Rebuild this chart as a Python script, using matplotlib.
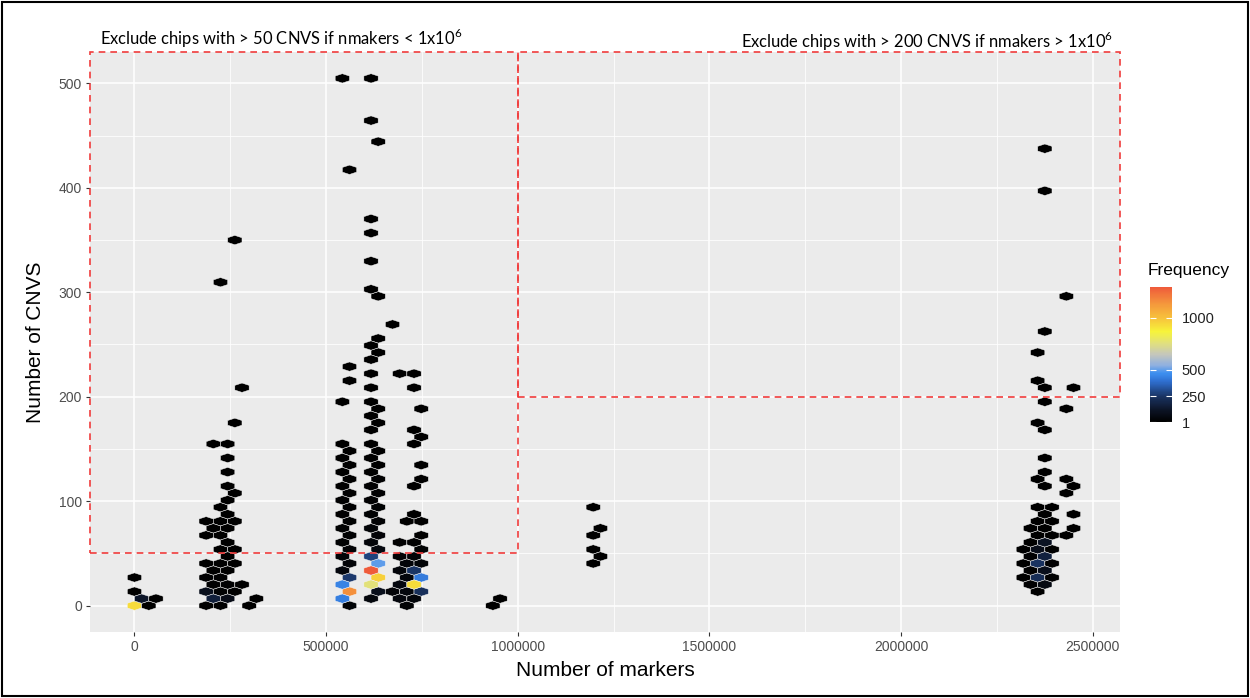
import numpy as np
import matplotlib
matplotlib.use("Agg")
import matplotlib.pyplot as plt
from matplotlib.colors import LinearSegmentedColormap, Normalize
from matplotlib.patches import Rectangle

plt.rcParams['font.family'] = ['Liberation Sans', 'DejaVu Sans']
plt.rcParams['mathtext.fontset'] = 'custom'
plt.rcParams['mathtext.rm'] = 'Lato'

# hex bins: centre (number of markers, number of CNVs) and chip count
# chips with very few markers
a_markers = [0, 37000, 19000, 56000, 0, 0]
a_cnvs = [0, 0, 7, 7, 13, 27]
a_freq = [930, 4, 120, 2, 6, 3]

# ~250k marker arrays
b_markers = [187000, 224000, 299000,
             206000, 243000, 318000,
             187000, 224000, 262000,
             206000, 243000, 281000,
             187000, 224000,
             206000, 243000,
             187000, 224000, 262000,
             243000,
             224000, 262000,
             243000,
             187000, 224000,
             206000, 243000,
             187000, 224000, 262000,
             243000, 224000, 243000, 262000, 243000, 243000, 243000,
             206000, 243000,
             262000, 281000, 224000, 262000]
b_cnvs = [0, 0, 0, 7, 7, 7, 13, 13, 13, 20, 20, 20, 27, 27, 34, 34,
          40, 40, 40, 47, 54, 54, 61, 67, 67, 74, 74, 81, 81, 81,
          87, 94, 101, 108, 114, 128, 141, 155, 155, 175, 209, 310, 350]
b_freq = [6, 9, 2, 160, 70, 2, 90, 12, 5, 10, 8, 3, 7, 9, 6, 5,
          4, 6, 3, 5, 4, 3, 3, 2, 3, 3, 2, 2, 3, 2,
          2, 1, 2, 1, 1, 1, 1, 1, 1, 1, 1, 1, 1]

# ~550k-750k marker arrays
c_markers = [561000, 542000, 561000, 542000, 561000, 542000, 561000, 542000,
             561000, 542000, 561000, 542000, 561000, 542000, 561000, 542000,
             561000, 542000, 561000, 542000, 561000, 542000, 561000, 542000,
             542000, 561000, 561000, 561000, 542000,
             617000, 636000, 617000, 636000, 617000, 636000, 617000, 636000,
             617000, 636000, 617000, 636000, 617000, 636000, 617000, 636000,
             617000, 636000, 617000, 636000, 617000, 636000, 617000,
             617000, 636000, 617000, 636000, 617000, 617000, 617000, 617000,
             636000, 617000, 636000, 673000, 636000, 617000, 617000, 617000,
             617000, 636000, 617000, 617000,
             711000, 692000, 729000, 673000, 711000, 748000, 692000, 729000,
             711000, 748000, 692000, 729000, 711000, 748000, 692000, 729000,
             748000, 692000, 729000, 748000, 711000, 748000, 729000, 729000,
             748000, 748000, 729000, 748000, 729000, 748000, 729000, 692000,
             729000]
c_cnvs = [0, 7, 13, 20, 27, 34, 40, 47, 54, 61, 67, 74, 81, 87, 94, 101,
          108, 114, 121, 128, 135, 141, 148, 155, 195, 215, 229, 417, 505,
          7, 13, 20, 27, 34, 40, 47, 54, 61, 67, 74, 81, 87, 94, 101, 108,
          114, 121, 128, 135, 141, 148, 155, 168, 175, 182, 188, 195, 209,
          222, 236, 242, 249, 256, 269, 296, 303, 330, 357, 370, 444, 464, 505,
          0, 7, 7, 13, 13, 13, 20, 20, 27, 27, 34, 34, 40, 40, 47, 47,
          54, 61, 61, 67, 81, 81, 87, 114, 121, 135, 155, 162, 168, 188,
          209, 222, 222]
c_freq = [25, 430, 1150, 440, 260, 40, 30, 25, 18, 15, 14, 12, 12, 10, 9, 8,
          8, 6, 6, 5, 5, 4, 3, 3, 1, 1, 1, 1, 1,
          45, 90, 760, 960, 1295, 500, 280, 50, 35, 28, 22, 18, 15, 12, 10, 9,
          8, 7, 6, 5, 5, 4, 3, 2, 2, 2, 1, 2, 1,
          1, 1, 1, 1, 1, 1, 1, 1, 1, 1, 1, 1, 1, 1,
          20, 40, 35, 30, 45, 230, 50, 930, 40, 420, 35, 250, 30, 25, 20, 22,
          12, 8, 7, 6, 4, 3, 2, 1, 1, 1, 1, 1, 1, 1,
          1, 1, 1]

# ~950k and ~1.2M marker arrays
d_markers = [935000, 954000,
             1197000, 1216000, 1197000, 1197000, 1216000, 1197000]
d_cnvs = [0, 7, 94, 74, 67, 54, 47, 40]
d_freq = [2, 1, 1, 1, 1, 1, 1, 1]

# ~2.4M marker arrays
e_markers = [2375000, 2375000, 2431000, 2375000, 2356000, 2356000, 2375000,
             2450000, 2375000, 2431000, 2356000, 2375000, 2375000, 2375000,
             2356000, 2431000, 2375000, 2450000, 2431000, 2356000, 2394000,
             2375000, 2450000, 2356000, 2394000, 2338000, 2375000, 2450000,
             2356000, 2394000, 2431000, 2338000, 2375000, 2319000, 2356000,
             2394000, 2338000, 2375000, 2319000, 2356000, 2394000, 2338000,
             2375000, 2319000, 2356000, 2394000, 2338000, 2375000, 2356000]
e_cnvs = [437, 397, 296, 262, 242, 215, 209, 209, 195, 188, 175, 168, 141,
          128, 121, 121, 114, 114, 108, 94, 94, 87, 87, 81, 81, 74, 74, 74,
          67, 67, 67, 61, 61, 54, 54, 54, 47, 47, 40, 40, 40, 34, 34, 27, 27,
          27, 20, 20, 13]
e_freq = [1, 1, 1, 1, 1, 1, 1, 1, 1, 1, 1, 1, 1, 1, 2, 1, 2, 1, 1, 2, 2,
          3, 1, 3, 2, 3, 4, 1, 4, 3, 1, 5, 110, 4, 80, 5, 8, 170, 6, 240, 8,
          10, 90, 6, 220, 7, 8, 60, 5]

# exclusion thresholds
marker_split = 1e6
low_cnv_cut = 50
high_cnv_cut = 200

x_ticks = [0, 500000, 1000000, 1500000, 2000000, 2500000]
x_tick_labels = ['0', '500000', '1000000', '1500000', '2000000', '2500000']
y_ticks = [0, 100, 200, 300, 400, 500]
freq_ticks = [1, 250, 500, 1000]

markers = np.concatenate([a_markers, b_markers, c_markers, d_markers, e_markers]).astype(float)
cnvs = np.concatenate([a_cnvs, b_cnvs, c_cnvs, d_cnvs, e_cnvs]).astype(float)
freq = np.concatenate([a_freq, b_freq, c_freq, d_freq, e_freq]).astype(float)

cmap = LinearSegmentedColormap.from_list('freq', [
    (0.00, '#000000'), (0.08, '#0b1222'), (0.19, '#1a3463'),
    (0.30, '#2f6fd0'), (0.36, '#3d8ff0'), (0.42, '#8fb0e0'),
    (0.50, '#c4c6bc'), (0.58, '#e0df80'), (0.67, '#f7f43a'),
    (0.77, '#f7c23c'), (0.87, '#f59a3c'), (1.00, '#ef5b3b')])
norm = Normalize(vmin=freq.min(), vmax=freq.max())

fig = plt.figure(figsize=(12.5, 6.98), dpi=100)
ax = fig.add_axes([0.072, 0.0946, 0.824, 0.8309])
ax.set_facecolor('#EBEBEB')
for s in ax.spines.values():
    s.set_visible(False)

# hex grid: 37400 markers wide, rows 6.73 CNVs apart
bin_w = 37400
bin_h = 13.46
nx, ny = 72, 42
x0 = -4 * bin_w
y0 = -2 * bin_h
hb = ax.hexbin(markers, cnvs, C=freq, reduce_C_function=np.sum,
               gridsize=(nx, ny), extent=(x0, x0 + nx * bin_w, y0, y0 + ny * bin_h),
               cmap=cmap, norm=norm, edgecolors='#f4f4f4', linewidths=0.35, zorder=2)

ax.set_xticks(x_ticks)
ax.set_xticklabels(x_tick_labels)
ax.set_xticks([t + 250000 for t in x_ticks], minor=True)
ax.set_yticks(y_ticks)
ax.set_yticks([t + 50 for t in y_ticks], minor=True)
ax.set_xlim(-116000, 2571000)
ax.set_ylim(-25.2, 530)
ax.grid(which='major', color='white', lw=1.1)
ax.grid(which='minor', color='white', lw=0.55)
ax.set_axisbelow(True)
ax.tick_params(which='major', length=2.75, width=0.8, color='#333333',
               labelcolor='#4D4D4D', labelsize=10, pad=3)
ax.tick_params(which='minor', length=0)
ax.set_xlabel('Number of markers', fontsize=15, labelpad=5)
ax.set_ylabel('Number of CNVS', fontsize=15, labelpad=10)

# exclusion regions
xl, xr = ax.get_xlim()
yb, yt = ax.get_ylim()
ax.add_patch(Rectangle((xl, low_cnv_cut), marker_split - xl, yt - low_cnv_cut,
                       fill=False, ec='#f03c3c', lw=1.2, ls=(0, (4, 3)),
                       clip_on=False, zorder=3))
ax.add_patch(Rectangle((marker_split, high_cnv_cut), xr - marker_split, yt - high_cnv_cut,
                       fill=False, ec='#f03c3c', lw=1.2, ls=(0, (4, 3)),
                       clip_on=False, zorder=3))

fig.text(100 / 1250, 1 - 38 / 698, r'Exclude chips with > 50 CNVS if nmakers < 1x10$^{6}$',
         family='Lato', fontsize=11.9, va='center', ha='left')
fig.text(1113 / 1250, 1 - 41 / 698, r'Exclude chips with > 200 CNVS if nmakers > 1x10$^{6}$',
         family='Lato', fontsize=11.9, va='center', ha='right')

# colour legend
cax = fig.add_axes([0.92, 0.3954, 0.0176, 0.1934])
cb = fig.colorbar(hb, cax=cax, ticks=freq_ticks)
cb.outline.set_visible(False)
cax.tick_params(direction='in', color='white', length=4.5, width=0.8,
                left=True, right=True, labelsize=10.5, labelcolor='#222222', pad=7)
fig.text(1148 / 1250, 1 - 270 / 698, 'Frequency', fontsize=12.5, va='center', ha='left')

fig.patches.append(Rectangle((0.0016, 0.003), 0.9968, 0.994, transform=fig.transFigure,
                             fill=False, ec='black', lw=1.5))

fig.savefig('out.png', dpi=100)
